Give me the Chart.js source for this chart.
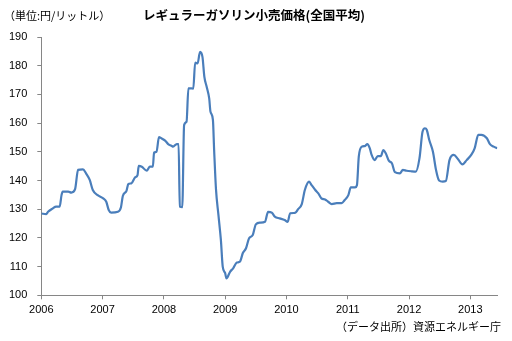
<!DOCTYPE html>
<html><head><meta charset="utf-8">
<script src="https://cdn.jsdelivr.net/npm/chart.js@4/dist/chart.umd.min.js"></script>
<style>
html,body{margin:0;padding:0;background:#fff;}
#wrap{position:relative;width:512px;height:341px;overflow:hidden;}
canvas{position:absolute;left:0;top:0;}
.t{position:absolute;white-space:nowrap;font-family:"Noto Sans CJK JP",sans-serif;color:#000;line-height:1;}
</style></head><body>
<div id="wrap"><canvas id="c" width="512" height="341"></canvas>
<div class="t" id="unit" style="left:4px;top:10px;font-size:11px;">（単位:円/リットル）</div>
<div class="t" id="title" style="left:143px;top:9px;font-size:12.5px;font-weight:bold;">レギュラーガソリン小売価格(全国平均)</div>
<div class="t" id="src" style="right:11px;top:321px;font-size:11px;">（データ出所）資源エネルギー庁</div>
</div>
<script>
// time position (decimal year) of each observation
const datePos = [
2006.00,2006.08,2006.11,2006.19,2006.24,2006.30,2006.33,2006.35,2006.44,2006.49,
2006.55,2006.60,2006.68,2006.73,2006.79,2006.84,2006.92,2007.01,2007.06,2007.10,
2007.14,2007.25,2007.30,2007.33,2007.39,2007.42,2007.47,2007.53,2007.57,2007.59,
2007.64,2007.72,2007.77,2007.82,2007.84,2007.88,2007.92,2007.96,2008.02,2008.07,
2008.13,2008.15,2008.21,2008.24,2008.26,2008.30,2008.33,2008.37,2008.40,2008.45,
2008.48,2008.51,2008.55,2008.59,2008.63,2008.66,2008.70,2008.74,2008.76,2008.80,
2008.82,2008.85,2008.89,2008.93,2008.96,2009.00,2009.02,2009.08,2009.13,2009.19,
2009.24,2009.29,2009.34,2009.39,2009.45,2009.50,2009.57,2009.65,2009.70,2009.76,
2009.81,2009.89,2009.97,2010.02,2010.06,2010.14,2010.19,2010.25,2010.30,2010.37,
2010.41,2010.47,2010.52,2010.57,2010.63,2010.68,2010.74,2010.82,2010.90,2010.95,
2011.01,2011.05,2011.12,2011.15,2011.18,2011.23,2011.28,2011.32,2011.36,2011.39,
2011.44,2011.49,2011.54,2011.58,2011.62,2011.67,2011.72,2011.77,2011.85,2011.90,
2011.96,2012.04,2012.11,2012.17,2012.22,2012.26,2012.29,2012.33,2012.39,2012.44,
2012.49,2012.55,2012.60,2012.66,2012.73,2012.80,2012.87,2012.94,2013.02,2013.07,
2013.13,2013.18,2013.27,2013.32,2013.38,2013.44
];
// regular gasoline retail price (yen per litre)
const prices = [
128.5,128.3,129.1,130.3,130.9,130.9,134.9,136.1,136.1,135.8,
136.9,143.7,143.9,142.5,140.2,136.7,134.9,133.8,132.6,129.7,
128.8,129.1,130.7,134.6,136.4,138.8,139.0,141.1,141.9,145.1,
144.8,143.4,144.8,144.8,149.7,150.0,155.1,154.7,153.9,152.7,
152.0,151.8,152.7,152.7,130.9,130.7,159.3,160.5,172.1,172.1,
172.0,181.1,180.8,184.8,183.0,176.2,172.5,168.5,164.0,161.1,
150.6,137.0,128.0,119.3,110.0,107.7,105.9,108.2,109.4,111.4,
111.7,114.8,116.4,119.9,121.0,124.7,125.3,125.6,129.1,128.8,
127.4,126.8,126.2,125.6,128.6,128.7,130.0,131.8,136.7,139.6,
138.4,136.7,135.5,133.8,133.4,132.6,131.8,132.1,132.1,133.2,
134.9,137.6,137.6,138.4,148.3,151.8,152.0,152.7,151.2,148.9,
147.1,148.5,148.5,150.6,149.5,146.9,146.0,142.9,142.5,143.7,
143.4,143.2,143.1,147.7,157.0,158.2,157.6,154.1,150.0,143.7,
140.0,139.6,139.8,147.1,148.9,147.4,145.6,147.1,149.1,151.2,
155.9,155.9,154.7,152.7,151.8,151.2
];
const yearTicks = [2006,2007,2008,2009,2010,2011,2012,2013];
const priceTicks = [100,110,120,130,140,150,160,170,180,190];

const axisColor = '#868686';
const tickFont = {family:'"Liberation Sans", Arial, sans-serif', size:11};

new Chart(document.getElementById('c'), {
  type: 'line',
  data: {
    datasets: [{
      data: datePos.map((x,i)=>({x:x, y:prices[i]})),
      borderColor: '#4a7ebb',
      borderWidth: 2.2,
      pointRadius: 0,
      fill: false,
      cubicInterpolationMode: 'monotone'
    }]
  },
  options: {
    responsive: false,
    animation: false,
    devicePixelRatio: 1,
    layout: {padding: {left: 0, right: 14.7, top: 37, bottom: 0}},
    plugins: {legend: {display: false}, title: {display: false}, tooltip: {enabled: false}},
    scales: {
      x: {
        type: 'linear',
        min: 2006,
        max: 2013.44,
        afterBuildTicks: s => { s.ticks = yearTicks.map(v => ({value: v})); },
        afterFit: s => { s.height = 341 - 295.3; },
        ticks: {font: tickFont, color: '#000', padding: 4, maxRotation: 0, autoSkip: false,
                callback: v => String(v)},
        grid: {drawOnChartArea: false, drawTicks: true, tickLength: 4, color: axisColor},
        border: {color: axisColor, width: 1}
      },
      y: {
        type: 'linear',
        min: 100,
        max: 190,
        afterBuildTicks: s => { s.ticks = priceTicks.map(v => ({value: v})); },
        afterFit: s => { s.width = 41.3; },
        ticks: {font: tickFont, color: '#000', padding: 10, callback: v => String(v)},
        grid: {drawOnChartArea: false, drawTicks: true, tickLength: 4, color: axisColor},
        border: {color: axisColor, width: 1}
      }
    }
  }
});
</script>
</body></html>
